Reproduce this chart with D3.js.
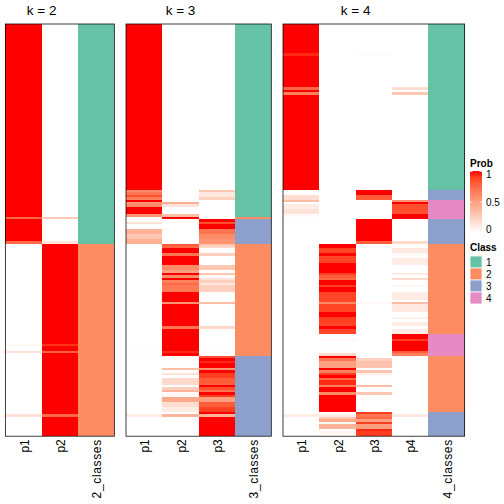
<!DOCTYPE html>
<html><head><meta charset="utf-8">
<script src="https://cdn.jsdelivr.net/npm/d3@7"></script>
<style>html,body{margin:0;padding:0;background:#fff}svg{display:block}text{font-family:"Liberation Sans",Arial,sans-serif;fill:#000}</style>
</head><body><div id="c"></div>
<script>
// Values: each list holds [firstRow, value] runs; a run lasts until the next one starts.
const rowCount = 169;
const k2_p1 = [[0,1],[79,.75],[80,1],[89,.75],[90,0],[131,.03],[132,0],[134,.15],[135,0],[160,.15],[161,0]];
const k2_p2 = [[0,0],[79,.28],[80,0],[89,.15],[90,1],[131,.93],[132,1],[134,.78],[135,1],[160,.75],[161,1]];
const k2_classes = [[0,1],[90,2]];

const k3_p1 = [[0,1],[68,.6],[69,.7],[70,.85],[71,.65],[72,1],[73,.55],[74,.6],[75,1],[78,.55],[79,0],[81,.15],[82,0],[84,.4],[86,.3],[88,.42],[90,0],[134,.03],[135,0],[160,.1],[161,0]];
const k3_p2 = [[0,0],[73,.42],[74,.15],[75,0],[78,.35],[79,1],[80,0],[90,.8],[91,.75],[92,1],[94,.7],[95,1],[99,.6],[101,.5],[102,1],[103,.6],[104,1],[105,.65],[106,.75],[107,.68],[110,1],[114,.55],[115,1],[124,.7],[125,1],[134,.95],[135,1],[136,.05],[137,.03],[138,0],[141,.35],[142,0],[143,.15],[144,0],[145,.2],[148,0],[149,.25],[150,.4],[151,.03],[153,.45],[155,.18],[157,.1],[159,0],[160,.4],[161,0]];
const k3_p3 = [[0,0],[68,.3],[69,.12],[71,.25],[72,0],[80,1],[81,.85],[82,1],[84,.7],[86,.6],[88,.55],[90,.3],[91,.2],[92,0],[94,.25],[95,0],[99,.3],[101,0],[102,.3],[103,0],[104,.15],[105,.25],[106,.12],[107,.25],[110,0],[114,.35],[115,0],[124,.2],[125,0],[134,.02],[135,0],[136,.85],[137,1],[138,.95],[139,1],[141,.55],[142,1],[143,.9],[145,.8],[148,1],[149,.85],[150,.7],[151,1],[152,.9],[153,.5],[155,.8],[157,.9],[159,1],[160,.4],[161,1]];
const k3_classes = [[0,1],[79,2],[80,3],[90,2],[136,3]];

const k4_p1 = [[0,1],[12,.95],[13,1],[26,.75],[27,1],[28,.65],[29,1],[68,0],[70,.18],[72,.35],[73,0],[74,.1],[76,.15],[78,.03],[79,0],[160,.1],[161,0]];
const k4_p2 = [[0,0],[90,1],[92,.88],[94,1],[95,.88],[98,1],[102,.9],[103,.8],[104,.75],[105,1],[107,.9],[108,1],[110,.88],[114,.6],[115,.88],[118,1],[120,.9],[122,.88],[124,1],[125,.88],[127,0],[129,.03],[130,0],[134,.03],[135,.2],[136,1],[137,.7],[138,.5],[141,1],[142,.65],[143,.9],[144,1],[145,.75],[146,.95],[148,.65],[149,1],[151,.6],[152,1],[159,0],[160,.1],[161,.3],[162,.45],[163,.03],[164,.4],[166,0],[167,.05],[168,0]];
const k4_p3 = [[0,0],[12,.01],[13,0],[68,1],[70,.8],[72,0],[80,1],[89,.8],[90,0],[114,.04],[115,0],[137,.25],[138,.32],[141,0],[142,.3],[143,.08],[144,.02],[145,0],[148,.35],[149,0],[151,.3],[152,0],[159,.9],[160,.7],[161,.75],[162,.5],[163,.9],[164,.5],[166,.95],[167,.9]];
const k4_p4 = [[0,0],[26,.18],[27,0],[28,.3],[29,0],[72,.55],[73,1],[74,.85],[78,1],[80,0],[89,.2],[90,0],[92,.12],[94,.03],[95,0],[96,.1],[99,0],[102,.1],[103,0],[104,.2],[105,0],[107,.05],[108,0],[110,.1],[113,0],[114,.35],[115,.12],[118,0],[120,.08],[121,0],[122,.1],[124,0],[125,.1],[127,1],[129,.9],[130,1],[134,.8],[135,.65],[136,0],[160,.12],[161,0]];
const k4_classes = [[0,1],[68,3],[72,4],[80,3],[90,2],[127,4],[136,2],[159,3]];

const panelTitles = ["k = 2","k = 3","k = 4"];
const panelColumns = [["p1","p2"],["p1","p2","p3"],["p1","p2","p3","p4"]];
const panelProbs = [[k2_p1,k2_p2],[k3_p1,k3_p2,k3_p3],[k4_p1,k4_p2,k4_p3,k4_p4]];
const panelClasses = [k2_classes,k3_classes,k4_classes];
const classNames = ["2_classes","3_classes","4_classes"];
const classLevels = [1,2,3,4];
const classColors = ["#66C2A5","#FC8D62","#8DA0CB","#E78AC3"];
const probTicks = [1,0.5,0];

// Layout
const W = 504, H = 504;
const top_ = 24, bottom_ = 436.2, colW = 36.33;
const panelLeft = [5.35, 126, 283];

const expand = runs => {
  const out = [];
  runs.forEach((run, i) => {
    const end = i + 1 < runs.length ? runs[i + 1][0] : rowCount;
    for (let r = run[0]; r < end; r++) out.push({row: r, value: run[1]});
  });
  return out;
};

const svg = d3.select("#c").append("svg").attr("width", W).attr("height", H).attr("viewBox", [0,0,W,H]);
const yRow = d3.scaleBand().domain(d3.range(rowCount)).range([top_, bottom_]).padding(0);
const prob = d3.scaleSequential(d3.interpolateLab("#ffffff", "#ff0000")).domain([0,1]);
const classColor = d3.scaleOrdinal().domain(classLevels).range(classColors);

panelTitles.forEach((title, p) => {
  const cols = panelColumns[p];
  const cn = classNames[p];
  const domain = cols.concat([cn]);
  const x = d3.scaleBand().domain(domain).range([panelLeft[p], panelLeft[p] + colW * domain.length]).padding(0);
  const g = svg.append("g");

  cols.forEach((c, i) => {
    g.append("g").attr("shape-rendering", "crispEdges")
      .selectAll("rect").data(expand(panelProbs[p][i])).join("rect")
      .attr("x", x(c)).attr("width", x.bandwidth())
      .attr("y", d => yRow(d.row)).attr("height", yRow.bandwidth())
      .attr("fill", d => prob(d.value));
  });
  g.append("g").attr("shape-rendering", "crispEdges")
    .selectAll("rect").data(expand(panelClasses[p])).join("rect")
    .attr("x", x(cn)).attr("width", x.bandwidth())
    .attr("y", d => yRow(d.row)).attr("height", yRow.bandwidth())
    .attr("fill", d => classColor(d.value));

  g.append("rect")
    .attr("x", x.range()[0]).attr("y", top_)
    .attr("width", x.range()[1] - x.range()[0]).attr("height", bottom_ - top_)
    .attr("fill", "none").attr("stroke", "#000").attr("stroke-width", 0.75);

  g.append("text").attr("x", (x.range()[0] + x(cn)) / 2).attr("y", 15)
    .attr("text-anchor", "middle").attr("font-size", 13.5).text(title);

  const axis = d3.axisBottom(x).tickSize(0).tickPadding(0);
  const ax = svg.append("g").attr("transform", `translate(0,${bottom_})`).call(axis);
  ax.select(".domain").remove();
  ax.selectAll("text")
    .attr("transform", "rotate(-90)")
    .attr("x", -3).attr("y", 0).attr("dy", "0.42em")
    .attr("text-anchor", "end").attr("font-size", 12)
    .attr("letter-spacing", d => d === cn ? 0.65 : 0)
    .attr("font-family", '"Liberation Sans",Arial,sans-serif').attr("fill", "#000");
});

// Prob legend
const lx = 470, lw = 12;
const legY = d3.scaleLinear().domain([0,1]).range([233, 171]);
svg.append("text").attr("x", lx).attr("y", 167).attr("font-size", 10).attr("font-weight", "bold").text("Prob");
const grad = svg.append("defs").append("linearGradient").attr("id","pg").attr("x1",0).attr("x2",0).attr("y1",1).attr("y2",0);
d3.range(0, 1.01, 0.1).forEach(t => grad.append("stop").attr("offset", t).attr("stop-color", prob(t)));
svg.append("rect").attr("x", lx).attr("y", legY(1)).attr("width", lw).attr("height", legY(0) - legY(1)).attr("fill", "url(#pg)");
probTicks.forEach(t => {
  const yy = t === 1 ? legY(1) + 0.5 : t === 0 ? legY(0) - 0.5 : legY(t);
  [[lx, lx + 2.4], [lx + lw - 2.4, lx + lw]].forEach(s => {
    svg.append("line").attr("x1", s[0]).attr("x2", s[1]).attr("y1", yy).attr("y2", yy)
      .attr("stroke", "#fff").attr("stroke-width", 0.75);
  });
  const labY = t === 1 ? legY(1) + 3.2 : t === 0 ? legY(0) - 3.2 : legY(t);
  svg.append("text").attr("x", 486).attr("y", labY).attr("dy", "0.35em").attr("font-size", 10).text(String(t));
});

// Class legend
const sq = d3.scaleBand().domain(classLevels).range([256, 304]).padding(0);
svg.append("text").attr("x", lx).attr("y", 251).attr("font-size", 10).attr("font-weight", "bold").text("Class");
svg.append("g").selectAll("rect").data(classLevels).join("rect")
  .attr("x", lx).attr("y", d => sq(d)).attr("width", lw).attr("height", sq.bandwidth())
  .attr("fill", d => classColor(d)).attr("stroke", "#fff").attr("stroke-width", 0.75);
svg.append("g").selectAll("text").data(classLevels).join("text")
  .attr("x", 486).attr("y", d => sq(d) + sq.bandwidth() / 2).attr("dy", "0.35em").attr("font-size", 10).text(d => d);
</script>
</body></html>
